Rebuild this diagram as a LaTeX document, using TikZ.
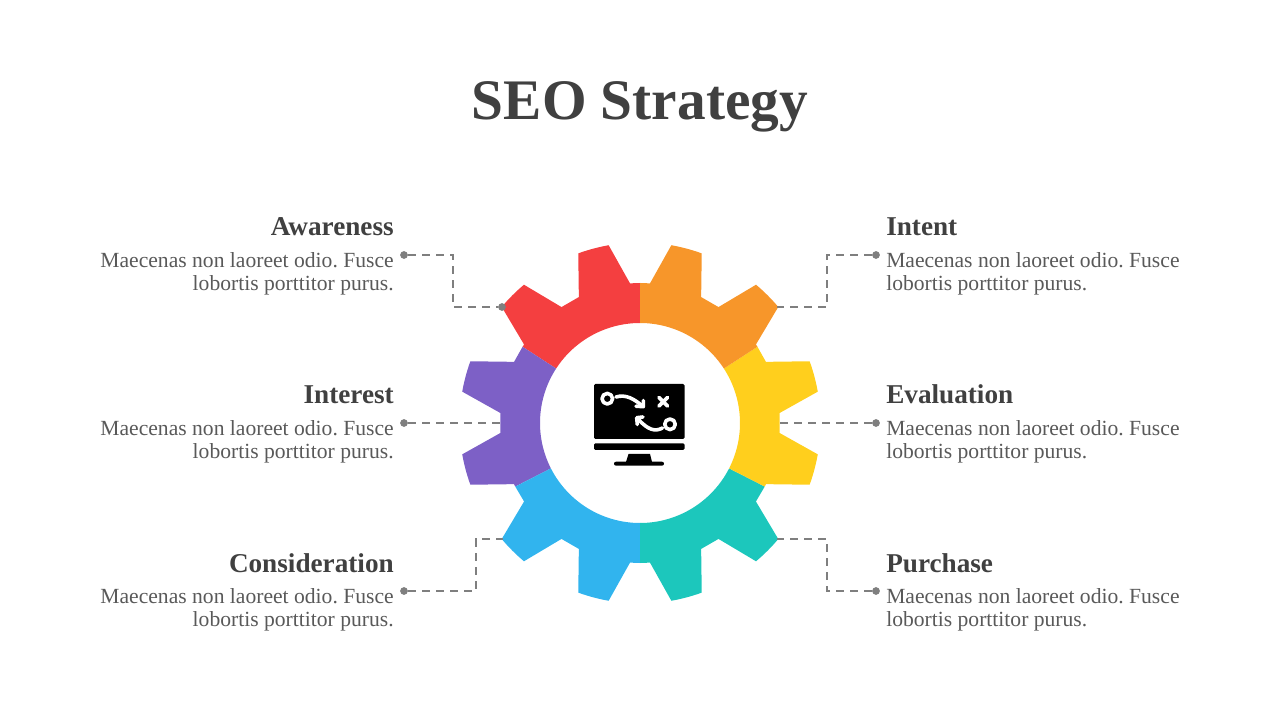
\documentclass[tikz,border=0pt]{standalone}
\usepackage{fontspec}
\usetikzlibrary{positioning}
\setmainfont{Liberation Serif}
\frenchspacing
\definecolor{gearred}{HTML}{F43F40}
\definecolor{gearorange}{HTML}{F7962A}
\definecolor{gearyellow}{HTML}{FFCF1D}
\definecolor{gearpurple}{HTML}{7D60C6}
\definecolor{gearblue}{HTML}{31B4EE}
\definecolor{gearteal}{HTML}{1CC7BC}
\definecolor{leadgray}{HTML}{7F7F7F}
\definecolor{titlegray}{HTML}{404040}
\definecolor{bodygray}{HTML}{595959}
\newcommand{\gearpart}[5]{
	\fill[#5] (#1:100) -- (#1:140) -- ({#2-10.9}:140) -- ({#2-5}:180.5)
		arc[start angle=#2-5,end angle=#2+5,radius=180.5] -- ({#2+10.9}:140)
		-- ({#3-10.9}:140) -- ({#3-5}:180.5)
		arc[start angle=#3-5,end angle=#3+5,radius=180.5] -- ({#3+10.9}:140)
		-- (#4:140) -- (#4:100) arc[start angle=#4,end angle=#1,radius=100] -- cycle;
}
\tikzset{
	heading/.style={font=\fontsize{20.4}{22}\selectfont\bfseries,text=titlegray,inner sep=0pt},
	bodytext/.style={font=\fontsize{16.2}{17.6}\selectfont,text=bodygray,inner sep=0pt},
	leader/.style={draw=leadgray,line width=1.6pt,dash pattern=on 6pt off 4.5pt},
	leaddot/.style={circle,fill=leadgray,inner sep=0pt,minimum size=5.8pt},
	iconline/.style={draw=white,line width=2.7pt,line cap=round,line join=round}
}

\begin{document}
\begin{tikzpicture}[x=0.75pt,y=0.75pt]
	\useasboundingbox (-640,-297) rectangle (640,423);
	\node[font=\fontsize{43}{48}\selectfont\bfseries,text=titlegray,inner sep=0pt,anchor=base] (title) at (0,303) {SEO Strategy};

	\gearpart{90}{105}{135}{147}{gearred}
	\gearpart{147}{165}{195}{207}{gearpurple}
	\gearpart{207}{225}{255}{270}{gearblue}
	\gearpart{270}{285}{315}{333}{gearteal}
	\gearpart{333}{345}{375}{393}{gearyellow}
	\gearpart{33}{45}{75}{90}{gearorange}

	\node[heading,anchor=base east] (awareness) at (-246,187) {Awareness};
	\node[bodytext,align=right,below=12pt of awareness.base east,anchor=north east] (awarenesstext) {Maecenas non laoreet odio. Fusce\\lobortis porttitor purus.};
	\node[heading,anchor=base east] (interest) at (-246,19) {Interest};
	\node[bodytext,align=right,below=12pt of interest.base east,anchor=north east] (interesttext) {Maecenas non laoreet odio. Fusce\\lobortis porttitor purus.};
	\node[heading,anchor=base east] (consideration) at (-246,-149) {Consideration};
	\node[bodytext,align=right,below=12pt of consideration.base east,anchor=north east] (considerationtext) {Maecenas non laoreet odio. Fusce\\lobortis porttitor purus.};
	\node[heading,anchor=base west] (intent) at (246,187) {Intent};
	\node[bodytext,align=left,below=12pt of intent.base west,anchor=north west] (intenttext) {Maecenas non laoreet odio. Fusce\\lobortis porttitor purus.};
	\node[heading,anchor=base west] (evaluation) at (246,19) {Evaluation};
	\node[bodytext,align=left,below=12pt of evaluation.base west,anchor=north west] (evaluationtext) {Maecenas non laoreet odio. Fusce\\lobortis porttitor purus.};
	\node[heading,anchor=base west] (purchase) at (246,-149) {Purchase};
	\node[bodytext,align=left,below=12pt of purchase.base west,anchor=north west] (purchasetext) {Maecenas non laoreet odio. Fusce\\lobortis porttitor purus.};

	\node[leaddot] (awarenessdot) at (-236,168) {};
	\node[leaddot] (awarenesstip) at (-138,116) {};
	\node[leaddot] (interestdot) at (-236,0) {};
	\node[leaddot] (considerationdot) at (-236,-168) {};
	\node[leaddot] (intentdot) at (236,168) {};
	\node[leaddot] (evaluationdot) at (236,0) {};
	\node[leaddot] (purchasedot) at (236,-168) {};
	\coordinate (awarenessbend) at (-187,142);
	\coordinate (interesttip) at (-140,0);
	\coordinate (considerationbend) at (-164,-142);
	\coordinate (considerationtip) at (-137,-116);
	\coordinate (intentbend) at (187,142);
	\coordinate (intenttip) at (137,116);
	\coordinate (evaluationtip) at (139,0);
	\coordinate (purchasebend) at (187,-142);
	\coordinate (purchasetip) at (137,-116);
	\draw[leader] (awarenessdot) -| (awarenessbend) |- (awarenesstip);
	\draw[leader] (interestdot) -- (interesttip);
	\draw[leader] (considerationdot) -| (considerationbend) |- (considerationtip);
	\draw[leader] (intentdot) -| (intentbend) |- (intenttip);
	\draw[leader] (evaluationdot) -- (evaluationtip);
	\draw[leader] (purchasedot) -| (purchasebend) |- (purchasetip);

	\fill[black,rounded corners=1pt] (-46,39) rectangle (44.5,-16);
	\fill[black,rounded corners=1pt] (-46,-20.3) rectangle (44.5,-27);
	\fill[black] (-11.5,-31) -- (10,-31) -- (12,-39) -- (-14,-39) -- cycle;
	\fill[black,rounded corners=1.5pt] (-26,-38.7) rectangle (24,-42.7);
	\draw[iconline] (-32.7,24.3) circle[radius=5.3];
	\draw[iconline] (-24,26) .. controls (-14,29) and (-6,24) .. (2.5,17);
	\draw[iconline] (3.3,22.5) -- (3.3,16.3) -- (-4,16.8);
	\draw[iconline] (19,25.5) -- (27.5,17);
	\draw[iconline] (19,17) -- (27.5,25.5);
	\draw[iconline] (30,-1.3) circle[radius=5.3];
	\draw[iconline] (22.5,-5) .. controls (15,-9) and (8,-7) .. (-2,4);
	\draw[iconline] (3,6) -- (-3.3,5.3) -- (-2.7,-1.5);
\end{tikzpicture}
\end{document}
